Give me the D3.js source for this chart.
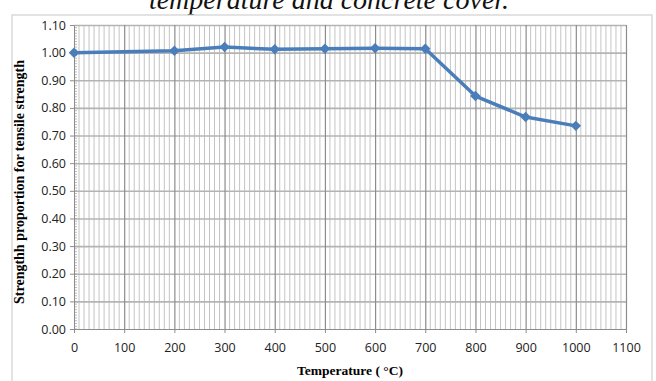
<!DOCTYPE html>
<html>
<head>
<meta charset="utf-8">
<script src="https://cdn.jsdelivr.net/npm/d3@7"></script>
<style>
  body { margin: 0; background: #fff; }
  svg { display: block; }
  .tick text { font-family: "Open Sans", "Liberation Sans", sans-serif; font-size: 12.5px; fill: #222; }
</style>
</head>
<body>
<div id="app"></div>
<script>
const temps  = [0, 200, 300, 400, 500, 600, 700, 800, 900, 1000],
      ratios = [1.000, 1.007, 1.020, 1.012, 1.014, 1.016, 1.014, 0.843, 0.767, 0.735],
      xTicks = [0, 100, 200, 300, 400, 500, 600, 700, 800, 900, 1000, 1100],
      yTicks = [0, 0.1, 0.2, 0.3, 0.4, 0.5, 0.6, 0.7, 0.8, 0.9, 1.0, 1.1];

const W = 656, H = 381,
      plot = { left: 74, right: 626, top: 25, bottom: 329 };

const x = d3.scaleLinear().domain([0, 1100]).range([plot.left, plot.right]),
      y = d3.scaleLinear().domain([0, 1.1]).range([plot.bottom, plot.top]);

const svg = d3.select("#app").append("svg")
  .attr("width", W)
  .attr("height", H);

/* caption cut off at top (as in the source figure) */
svg.append("text")
  .attr("x", 329).attr("y", 9)
  .attr("text-anchor", "middle")
  .style("font-family", "'Liberation Serif', serif")
  .style("font-style", "italic")
  .style("font-size", "28px")
  .style("fill", "#111")
  .text("temperature and concrete cover.");

/* chart frame */
svg.append("rect")
  .attr("x", 12).attr("y", 15)
  .attr("width", 640).attr("height", 380)
  .attr("fill", "#fff")
  .attr("stroke", "#d0d0d0")
  .attr("stroke-width", 1.2);

/* minor vertical grid every 10 */
svg.append("g")
  .selectAll("line")
  .data(d3.range(10, 1100, 10).filter(d => d % 100 !== 0))
  .join("line")
    .attr("x1", d => x(d)).attr("x2", d => x(d))
    .attr("y1", plot.top).attr("y2", plot.bottom)
    .attr("stroke", "#c4c4c4")
    .attr("stroke-width", 1);

/* horizontal grid */
svg.append("g")
  .attr("transform", `translate(${plot.left},0)`)
  .call(d3.axisLeft(y).tickValues(yTicks.slice(1)).tickSize(-(plot.right - plot.left)).tickFormat(""))
  .call(g => g.select(".domain").remove())
  .call(g => g.selectAll("line").attr("stroke", "#b4b4b4").attr("stroke-width", 1.6));

/* major vertical grid */
svg.append("g")
  .attr("transform", `translate(0,${plot.bottom})`)
  .call(d3.axisBottom(x).tickValues(xTicks.slice(1)).tickSize(-(plot.bottom - plot.top)).tickFormat(""))
  .call(g => g.select(".domain").remove())
  .call(g => g.selectAll("line").attr("stroke", "#8c8c8c").attr("stroke-width", 1.2));

/* y minor ruler ticks */
svg.append("g")
  .selectAll("line")
  .data(d3.range(0, 1.1, 0.01))
  .join("line")
    .attr("x1", plot.left).attr("x2", plot.left + 3)
    .attr("y1", d => y(d)).attr("y2", d => y(d))
    .attr("stroke", "#a8a8a8")
    .attr("stroke-width", 0.8);

/* Y axis */
svg.append("g")
  .attr("transform", `translate(${plot.left},0)`)
  .call(d3.axisLeft(y).tickValues(yTicks).tickSize(4).tickPadding(4).tickFormat(d3.format(".2f")))
  .call(g => g.select(".domain").attr("stroke", "#8c8c8c"))
  .call(g => g.selectAll(".tick line").attr("stroke", "#8c8c8c"));

/* X axis */
svg.append("g")
  .attr("transform", `translate(0,${plot.bottom})`)
  .call(d3.axisBottom(x).tickValues(xTicks).tickSize(4).tickPadding(10).tickFormat(d3.format("d")))
  .call(g => g.select(".domain").attr("stroke", "#8c8c8c"))
  .call(g => g.selectAll(".tick line").attr("stroke", "#8c8c8c"));

/* axis titles */
svg.append("text")
  .attr("transform", `translate(24,${(plot.top + plot.bottom) / 2 + 5}) rotate(-90)`)
  .attr("text-anchor", "middle")
  .style("font-family", "'Liberation Serif', serif")
  .style("font-weight", "bold")
  .style("font-size", "14px")
  .text("Strengthh proportion for tensile strength");

svg.append("text")
  .attr("x", (plot.left + plot.right) / 2).attr("y", 375)
  .attr("text-anchor", "middle")
  .style("font-family", "'Liberation Serif', serif")
  .style("font-weight", "bold")
  .style("font-size", "13.5px")
  .text("Temperature ( °C)");

/* series */
const pts = temps.map((t, i) => ({ t, v: ratios[i] }));

const line = d3.line()
  .x(d => x(d.t))
  .y(d => y(d.v));

svg.append("path")
  .datum(pts)
  .attr("fill", "none")
  .attr("stroke", "#4a7ebb")
  .attr("stroke-width", 3.5)
  .attr("stroke-linejoin", "round")
  .attr("d", line);

svg.selectAll(".dot")
  .data(pts)
  .join("path")
    .attr("class", "dot")
    .attr("transform", d => `translate(${x(d.t)},${y(d.v)})`)
    .attr("d", d3.symbol(d3.symbolDiamond2, 70))
    .attr("fill", "#4a7ebb");
</script>
</body>
</html>
